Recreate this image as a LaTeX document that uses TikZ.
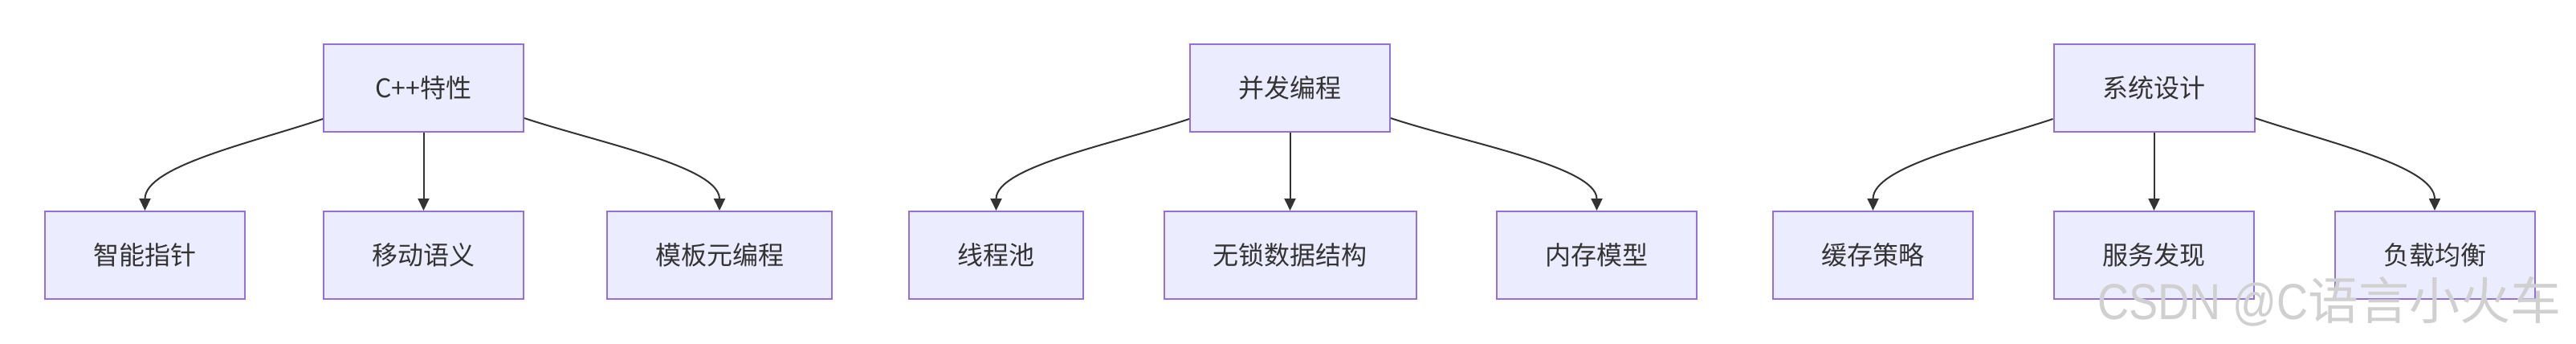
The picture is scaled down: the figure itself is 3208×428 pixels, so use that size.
\documentclass[tikz,border=0pt]{standalone}
\usepackage{fontspec}
\usepackage{graphicx}
\setmainfont{Noto Sans CJK SC}
\newfontfamily\wmlatin{Liberation Sans}
\newfontfamily\wmcjk{Noto Sans CJK SC}
\usetikzlibrary{arrows.meta,calc}
\definecolor{boxfill}{HTML}{ECECFF}
\definecolor{boxline}{HTML}{9370DB}
\definecolor{edgecol}{HTML}{333333}
\definecolor{txtcol}{HTML}{333333}
\definecolor{wmcol}{HTML}{D0D0D0}
\begin{document}
\begin{tikzpicture}[x=1pt,y=-1pt,
  box/.style={draw=boxline,fill=boxfill,line width=2pt,minimum height=109pt,
    inner sep=0pt,text=txtcol,font=\fontsize{32}{36}\selectfont},
  edge/.style={draw=edgecol,line width=2pt,-{Triangle[length=15pt,width=14pt]}},
  wm/.style={text=wmcol,inner sep=0pt,font=\fontsize{63}{70}\selectfont}]
\useasboundingbox[fill=white] (0,0) rectangle (3208,428);
% cluster 1
\node[box,minimum width=249pt] (cpp) at (527.5,109.5) {C++特性};
\node[box,minimum width=249pt] (smart) at (180.5,317.5) {智能指针};
\node[box,minimum width=249pt] (move) at (527.5,317.5) {移动语义};
\node[box,minimum width=280pt] (tmpl) at (896,317.5) {模板元编程};
% cluster 2
\node[box,minimum width=249pt] (conc) at (1606.5,109.5) {并发编程};
\node[box,minimum width=217pt] (pool) at (1240.5,317.5) {线程池};
\node[box,minimum width=314pt] (lockfree) at (1606.5,317.5) {无锁数据结构};
\node[box,minimum width=249pt] (memmodel) at (1988.5,317.5) {内存模型};
% cluster 3
\node[box,minimum width=250pt] (sys) at (2682.5,109.5) {系统设计};
\node[box,minimum width=249pt] (cache) at (2332.5,317.5) {缓存策略};
\node[box,minimum width=249pt] (disc) at (2682.5,317.5) {服务发现};
\node[box,minimum width=249pt] (lb) at (3032,317.5) {负载均衡};
% connectors
\foreach \p/\l/\m/\r in {cpp/smart/move/tmpl, conc/pool/lockfree/memmodel, sys/cache/disc/lb}{
  \coordinate (ls) at ($(\p.south west)+(0,-17)$);
  \coordinate (rs) at ($(\p.south east)+(0,-18)$);
  \draw[edge] (ls) .. controls ($(ls)+(-90,30)$) and ($(\l.north)+(0,-55)$) .. (\l.north);
  \draw[edge] (\p.south) -- (\p.south |- \m.north);
  \draw[edge] (rs) .. controls ($(rs)+(90,30)$) and ($(\r.north)+(0,-55)$) .. (\r.north);
}
% watermark
\node[wm,anchor=base west] (mark) at (2612,397) {\scalebox{0.86}[1]{\wmlatin CSDN @C}\wmcjk 语言小火车};
\end{tikzpicture}
\end{document}
